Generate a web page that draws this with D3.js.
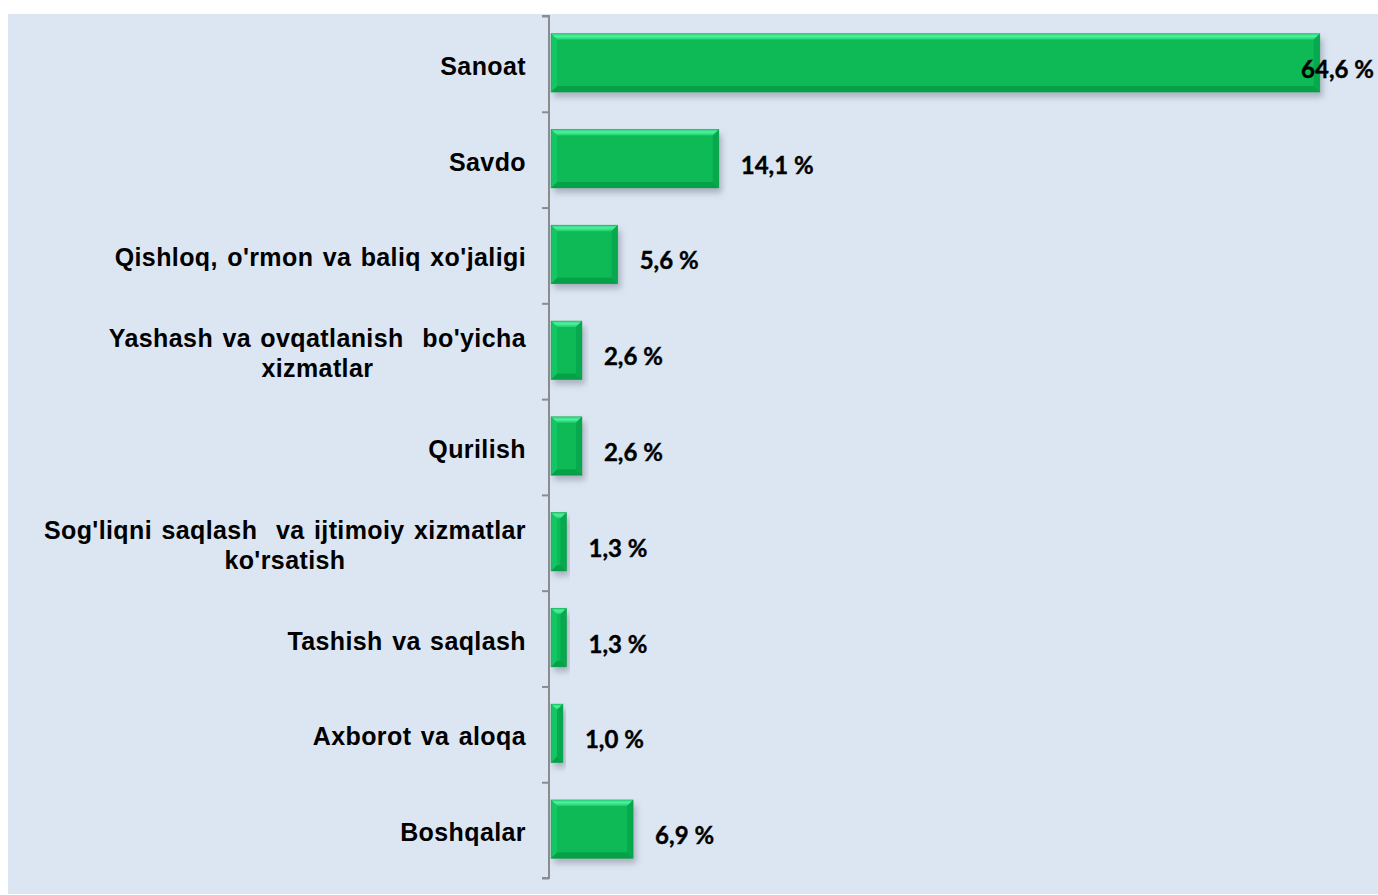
<!DOCTYPE html>
<html><head><meta charset="utf-8">
<script src="https://cdn.jsdelivr.net/npm/d3@7"></script>
<style>
html,body{margin:0;padding:0;background:#fff;}
svg{display:block;}
</style></head>
<body>
<svg id="chart" width="1378" height="895"></svg>
<script>
const categories = [
  ["Sanoat"],
  ["Savdo"],
  ["Qishloq, o'rmon va baliq xo'jaligi"],
  ["Yashash va ovqatlanish  bo'yicha", "xizmatlar"],
  ["Qurilish"],
  ["Sog'liqni saqlash  va ijtimoiy xizmatlar", "ko'rsatish"],
  ["Tashish va saqlash"],
  ["Axborot va aloqa"],
  ["Boshqalar"]
];
const values = [64.6, 14.1, 5.6, 2.6, 2.6, 1.3, 1.3, 1.0, 6.9];
const valueLabels = ["64,6 %", "14,1 %", "5,6 %", "2,6 %", "2,6 %", "1,3 %", "1,3 %", "1,0 %", "6,9 %"];

const W = 1378, H = 895;
const svg = d3.select("#chart");
const defs = svg.append("defs");
const sh = defs.append("filter").attr("id","shadow").attr("x","-10%").attr("y","-20%").attr("width","130%").attr("height","160%");
sh.append("feDropShadow").attr("dx",3).attr("dy",5).attr("stdDeviation",3)
  .attr("flood-color","#6a7080").attr("flood-opacity",0.45);
const tg = defs.append("linearGradient").attr("id","topbev").attr("x1",0).attr("y1",0).attr("x2",0).attr("y2",1);
tg.append("stop").attr("offset","0%").attr("stop-color","#2fd67c");
tg.append("stop").attr("offset","45%").attr("stop-color","#4cf29c");
tg.append("stop").attr("offset","100%").attr("stop-color","#1fcc6c");

// panel
svg.append("rect").attr("x",8).attr("y",14).attr("width",W-8).attr("height",880).attr("fill","#dce6f2");

const ids = categories.map((c,i)=>"c"+i);
const y = d3.scaleBand().domain(ids).range([16, 878]).paddingInner(0.39).paddingOuter(0.195);
const x = d3.scaleLinear().domain([0, 70]).range([551, 551 + 70*11.9]);
const yTicks = d3.scaleLinear().domain([0, categories.length]).range([16, 878]);

// bars
const g = svg.append("g");
const bars = g.selectAll("g.bar").data(values).join("g").attr("class","bar");
const b = 6;
bars.each(function(v,i){
  const sel = d3.select(this);
  const x0 = x(0), x1 = x(v), y0 = y(ids[i]) - 1, h = y.bandwidth(), y1 = y0 + h;
  const bb = Math.min(b, (x1-x0)/2);
  sel.append("rect").attr("x",x0).attr("y",y0).attr("width",x1-x0).attr("height",h)
    .attr("fill","#0aba57").attr("filter","url(#shadow)");
  sel.append("polygon").attr("points",[[x0,y0],[x1,y0],[x1-bb,y0+b],[x0+bb,y0+b]].join(" ")).attr("fill","url(#topbev)");
  sel.append("polygon").attr("points",[[x0,y1],[x1,y1],[x1-bb,y1-b],[x0+bb,y1-b]].join(" ")).attr("fill","#06a049");
  sel.append("polygon").attr("points",[[x1,y0],[x1,y1],[x1-bb,y1-b],[x1-bb,y0+b]].join(" ")).attr("fill","#07a94e");
  sel.append("polygon").attr("points",[[x0,y0],[x0,y1],[x0+bb,y1-b],[x0+bb,y0+b]].join(" ")).attr("fill","#14c564");
  sel.append("rect").attr("x",x0).attr("y",y0).attr("width",x1-x0).attr("height",h)
    .attr("fill","none").attr("stroke","#0a9a48").attr("stroke-width",0.8).attr("stroke-opacity",0.5);
});

// axis
const axis = d3.axisLeft(yTicks).ticks(categories.length).tickSize(7).tickFormat("");
const ag = svg.append("g").attr("transform","translate(549,0)").call(axis);
ag.selectAll("path,line").attr("stroke","#8c8c8c").attr("stroke-width",2);
ag.select("path.domain").attr("d", `M-7,16H0V878H-7`);

// category labels
const lg = svg.append("g").attr("font-family","'Liberation Sans', Arial, sans-serif")
  .attr("font-weight","bold").attr("font-size",25).attr("fill","#000")
  .attr("letter-spacing",0.4).attr("word-spacing",2);
categories.forEach((lines,i)=>{
  const cy = y(ids[i]) + y.bandwidth()/2;
  const lh = 30;
  const t = lg.append("text").attr("text-anchor","middle").style("white-space","pre");
  const start = cy - (lines.length-1)*lh/2 + 11;
  lines.forEach((ln,k)=>{
    t.append("tspan").attr("y", start + k*lh).text(ln);
  });
  const tspans = t.selectAll("tspan").nodes();
  let maxW = 0;
  tspans.forEach(n=>{ maxW = Math.max(maxW, n.getComputedTextLength()); });
  t.selectAll("tspan").attr("x", 526 - maxW/2);
});

// value labels
const vg = svg.append("g").attr("font-family","Lato, 'Open Sans', sans-serif")
  .attr("font-weight","bold").attr("font-size",24).attr("fill","#000")
  .attr("stroke","#000").attr("stroke-width",0.4);
values.forEach((v,i)=>{
  const cy = y(ids[i]) + y.bandwidth()/2;
  const t = vg.append("text").attr("y", cy + 14).style("white-space","pre").text(valueLabels[i]);
  const w = t.node().getComputedTextLength();
  let tx = x(v) + 22;
  if (tx + w > W - 4) tx = W - 4 - w;
  t.attr("x", tx);
});
</script>
</body></html>
